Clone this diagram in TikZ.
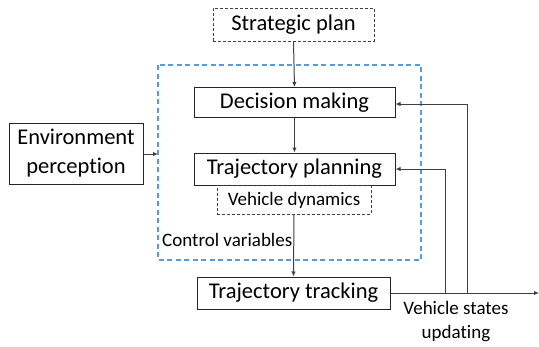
\documentclass[tikz,border=0pt]{standalone}
\usepackage{fontspec}
\setmainfont{Carlito}[Ligatures=NoCommon]
\usetikzlibrary{arrows.meta}
\definecolor{bluedash}{HTML}{5B9BD5}
\definecolor{linegray}{HTML}{404040}
\tikzset{
  box/.style={draw=black!85, line width=1pt, inner sep=0pt, font=\fontsize{22.5}{27}\selectfont},
  dbox/.style={draw=black!75, dash pattern=on 3pt off 2pt, line width=0.9pt, inner sep=0pt},
  conn/.style={draw=linegray, line width=1pt, -{Latex[length=5pt,width=4.5pt]}},
  small/.style={font=\fontsize{19}{23}\selectfont, inner sep=0pt}
}
\begin{document}
\begin{tikzpicture}[x=1pt,y=-1pt]
\useasboundingbox (0,0) rectangle (539,346);
% blue dashed frame
\draw[bluedash, dash pattern=on 5pt off 3.5pt, line width=1.1pt] (158,65) rectangle (421,260);
\node[dbox, minimum width=161pt, minimum height=33pt, font=\fontsize{22.5}{27}\selectfont] (sp) at (293.5,24.5) {Strategic plan};
\node[box, minimum width=201pt, minimum height=30pt] (dm) at (294.5,102.5) {Decision making};
\node[box, minimum width=201pt, minimum height=32pt] (tp) at (294.5,169) {Trajectory planning};
\node[dbox, small, minimum width=154pt, minimum height=29pt, anchor=north] (vd) at (294,185) {Vehicle dynamics};
\node[box, minimum width=193pt, minimum height=32pt] (tt) at (293.5,293) {Trajectory tracking};
\node[box, minimum width=134pt, minimum height=61pt, align=center, font=\fontsize{22.5}{29}\selectfont] (ep) at (76,153.5) {Environment\\perception};
\node[small, anchor=west] (cv) at (162,240) {Control variables};
\node[small, align=center, font=\fontsize{19}{24}\selectfont] (vs) at (456,321.5) {Vehicle states\\updating};
\coordinate (out) at (539,293);
\coordinate (j1) at (445,293);
\coordinate (j2) at (467,293);
\coordinate (fr) at (158,154);
\draw[conn] (sp.south) -- (dm.north);
\draw[conn] (dm.south) -- (tp.north);
\draw[conn] (vd.south) -- (tt.north);
\draw[conn] (ep.east |- fr) -- (fr);
\draw[conn] (tt.east) -- (out);
\draw[conn] (j1) -- (j1 |- 0,169) -- (tp.east |- 0,169);
\draw[conn] (j2) -- (j2 |- 0,104) -- (dm.east |- 0,104);
\end{tikzpicture}
\end{document}
